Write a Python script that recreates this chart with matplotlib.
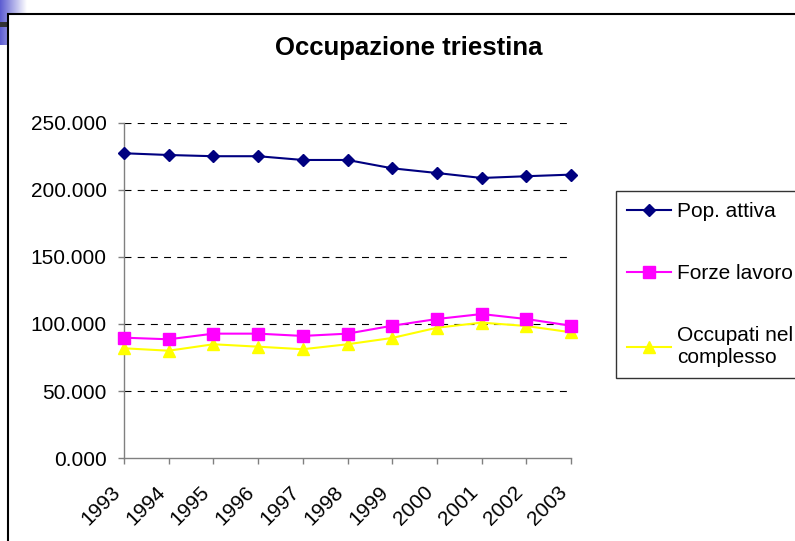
import matplotlib
matplotlib.use("Agg")
import matplotlib.pyplot as plt
import numpy as np
from matplotlib.patches import Rectangle

years = [1993, 1994, 1995, 1996, 1997, 1998, 1999, 2000, 2001, 2002, 2003]
pop_attiva = [227100, 225800, 224900, 224900, 222100, 222100, 215900, 212400, 208700, 210000, 211200]
forze_lavoro = [89800, 88600, 92800, 92800, 91100, 92800, 98700, 103700, 107400, 103700, 98700]
occupati = [81900, 80100, 84900, 83100, 81200, 84900, 89600, 97200, 101000, 98500, 93800]
labels = ["Pop. attiva", "Forze lavoro", "Occupati nel\ncomplesso"]
yticks = [0, 50000, 100000, 150000, 200000, 250000]
ytick_labels = ["0.000", "50.000", "100.000", "150.000", "200.000", "250.000"]

plt.rcParams['font.family'] = ['Liberation Sans', 'DejaVu Sans']
plt.rcParams['lines.scale_dashes'] = False

W, H = 795, 541
fig = plt.figure(figsize=(W / 100, H / 100), dpi=100)

# decoration: blue gradient square top-left and dark bar
gax = fig.add_axes([0, 1 - 45 / H, 27 / W, 45 / H])
grad = np.linspace(0, 1, 100)[None, :, None]
c0 = np.array([0.36, 0.36, 0.82])
c1 = np.array([1.0, 1.0, 1.0])
img = c0 * (1 - grad) + c1 * grad
gax.imshow(np.repeat(img, 10, axis=0), aspect='auto', extent=[0, 1, 0, 1])
gax.axis('off')
fig.patches.append(Rectangle((0, 1 - 27 / H), 8 / W, 5 / H, transform=fig.transFigure,
                             facecolor='#333333', edgecolor='none', zorder=2))
# chart frame
fig.patches.append(Rectangle((7.5 / W, -0.1), 1.2, 1.1 - 13.5 / H, transform=fig.transFigure,
                             facecolor='white', edgecolor='black', linewidth=1.5, zorder=3))

ax = fig.add_axes([124 / W, 1 - 458.3 / H, (571 - 124) / W, (458.3 - 122.5) / H])
ax.set_zorder(5)
ax.patch.set_alpha(0)

ax.plot(years, pop_attiva, color='#000080', marker='D', markersize=6, lw=1.5, label=labels[0], clip_on=False, zorder=4)
ax.plot(years, forze_lavoro, color='#FF00FF', marker='s', markersize=8, lw=1.5, label=labels[1], clip_on=False, zorder=4)
ax.plot(years, occupati, color='#FFFF00', marker='^', markersize=8, lw=1.5, label=labels[2], clip_on=False, zorder=3)

ax.set_xlim(1993, 2003)
ax.set_ylim(0, 250000)
ax.set_yticks(yticks)
ax.set_yticklabels(ytick_labels, fontsize=15)
ax.set_xticks(years)
ax.set_xticklabels([str(y) for y in years], fontsize=15, rotation=45, ha='right', va='top')
for yv in yticks[1:]:
    ax.axhline(yv, color='black', lw=0.8, dashes=(5, 4.5), zorder=1)

for s in ['top', 'right']:
    ax.spines[s].set_visible(False)
for s in ['left', 'bottom']:
    ax.spines[s].set_color('#808080')
    ax.spines[s].set_linewidth(1.0)
ax.tick_params(axis='both', direction='out', length=4.5, color='#808080', width=1.0)
ax.tick_params(axis='y', pad=8)
ax.tick_params(axis='x', pad=13)

fig.text(409 / W, 1 - 48 / H, "Occupazione triestina", fontsize=18.5, fontweight='bold',
         ha='center', va='center', zorder=6)

leg = fig.legend(loc='upper left', bbox_to_anchor=(616 / W, 1 - 191 / H), fontsize=15,
                 frameon=True, fancybox=False, edgecolor='black', handlelength=2.1,
                 handletextpad=0.3, labelspacing=2.05, borderpad=0.55, borderaxespad=0)
leg.get_frame().set_linewidth(1.0)
leg.set_zorder(10)

fig.savefig("out.png", dpi=100)
